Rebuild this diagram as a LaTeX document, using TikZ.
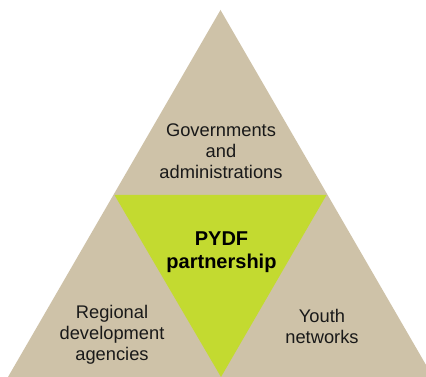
\documentclass[tikz,border=0pt]{standalone}
\usepackage{fontspec}
\setmainfont{Liberation Sans}
\definecolor{tan}{RGB}{206,194,168}
\definecolor{lime}{RGB}{195,218,48}
\begin{document}
\begin{tikzpicture}[x=1pt,y=1pt,
  lbl/.style={align=center,inner sep=0pt,font=\fontsize{18.3}{20.8}\selectfont,text=black!90},
  blbl/.style={align=center,inner sep=0pt,font=\fontsize{20}{23}\bfseries\selectfont,text=black}]
\useasboundingbox (0,0) rectangle (426,377);
\clip (0,0) rectangle (426,377);
\coordinate (apex) at (220.5,367);
\coordinate (bl) at (8,0);
\coordinate (br) at (433,0);
\coordinate (ml) at (114.5,182);
\coordinate (mr) at (326.5,182);
\coordinate (mb) at (221,0);
\fill[tan] (apex) -- (bl) -- (br) -- cycle;
\fill[lime] (ml) -- (mr) -- (mb) -- cycle;
\node[lbl] (gov) at (221,226) {Governments\\and\\administrations};
\node[blbl] (pydf) at (221.5,124.7) {PYDF\\partnership};
\node[lbl] (reg) at (112,42.1) {Regional\\development\\agencies};
\node[lbl] (youth) at (322,50.5) {Youth\\networks};
\end{tikzpicture}
\end{document}
